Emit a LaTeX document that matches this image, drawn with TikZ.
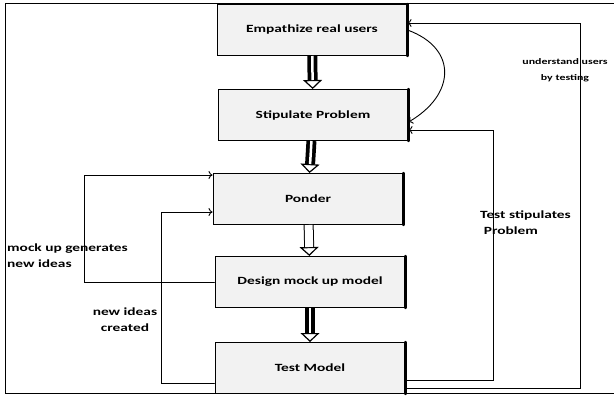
\documentclass[tikz,border=0pt]{standalone}
\usepackage{fontspec}
\setmainfont{Carlito}[FakeStretch=1.4]
\usetikzlibrary{arrows.meta}

\tikzset{
  box/.style={draw, line width=1pt, fill=gray!10, minimum width=190pt,
    minimum height=51pt, inner sep=0pt, font=\bfseries\fontsize{11}{13}\selectfont},
  head/.style={-{Triangle[open, length=9pt, width=19pt, line width=1.2pt, fill=white]}},
  down/.style={line width=10pt, line cap=butt, head,
    postaction={draw=white, line width=2.5pt, -, shorten >=9pt}},
  hollow/.style={line width=10pt, line cap=butt, head,
    postaction={draw=white, line width=8pt, -, shorten >=9pt}},
  fb/.style={line width=0.9pt, -{To[length=4pt,width=8pt]}},
  lbl/.style={font=\bfseries\fontsize{11}{16}\selectfont, inner sep=0pt},
}

\begin{document}
\begin{tikzpicture}[x=1pt, y=-1pt, line cap=round]

  % page and frame
  \useasboundingbox (0,0) rectangle (614,396);
  \draw[line width=1pt] (5,4) rectangle (625,393);

  % boxes
  \node[box] (emp) at (312,30) {Empathize real users};
  \node[box] (stip) at (313,115) {Stipulate Problem};
  \node[box] (pond) at (308,199) {Ponder};
  \node[box] (mock) at (310,282) {Design mock up model};
  \node[box] (test) at (310,368) {Test Model};

  % shadowed right edges
  \foreach \n in {emp,stip,pond,mock,test}
    \draw[line width=2.4pt] (\n.north east) -- (\n.south east);

  % main flow
  \draw[down] (emp) -- (stip);
  \draw[down] (stip) -- (pond);
  \draw[hollow] (pond) -- (mock);
  \draw[down] (mock) -- (test);

  % feedback loops
  \draw[fb] (emp.east) to[out=-20, in=30, looseness=1.5] ([yshift=-7pt]stip.east);
  \draw[fb] ([yshift=-20pt]test.east) -- ++(175,0) |- ([yshift=7pt]emp.east);
  \draw[fb] ([yshift=-12pt]test.east) -- ++(88,0) |- ([yshift=-15pt]stip.east);
  \draw[fb] ([yshift=-15pt]test.west) -- ++(-53,0) |- ([yshift=-13pt]pond.west);
  \draw[fb] (mock.west) -- ++(-130,0) |- ([yshift=24pt]pond.west);

  % labels
  \node[lbl, anchor=west, align=left] (gen) at (7,256) {mock up generates\\new ideas};
  \node[lbl, align=center] (created) at (125,320) {new ideas\\created};
  \node[lbl, anchor=west, align=left] (stiplbl) at (480,223) {Test stipulates\\\,\,Problem};
  \node[lbl, font=\bfseries\fontsize{8.5}{16}\selectfont, align=center] (undlbl) at (565,70)
    {understand users\\by testing};
\end{tikzpicture}
\end{document}
